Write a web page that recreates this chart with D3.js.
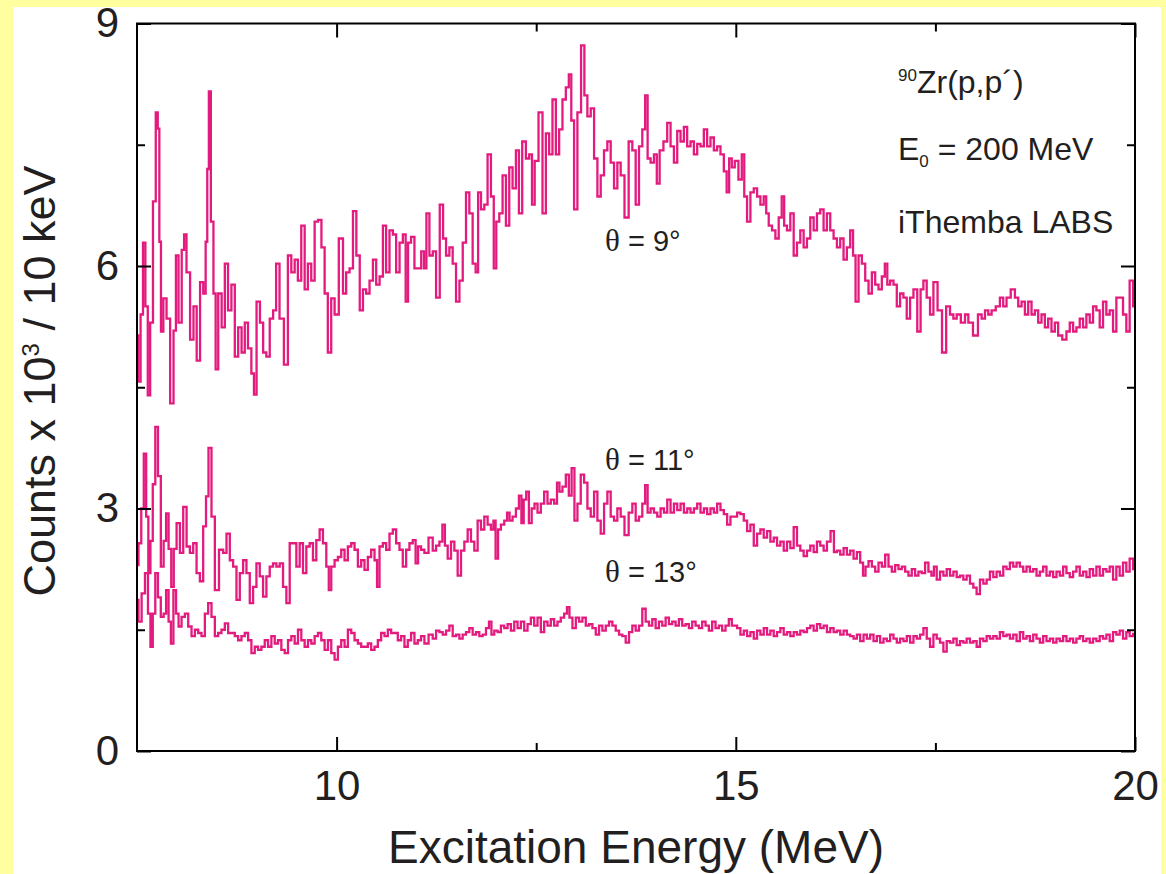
<!DOCTYPE html>
<html><head><meta charset="utf-8">
<script src="https://cdn.jsdelivr.net/npm/d3@7"></script>
<style>html,body{margin:0;padding:0;background:#FFFFA0;} svg{display:block}</style>
</head><body><svg id="c" width="1166" height="874"></svg>
<script>
// ---- tick values ----
const xMajorTicks = [10, 15, 20];
const xMinorTicks = [12.5, 17.5];
const yMajorTicks = [0, 3, 6, 9];
const yMinorTicks = [1.5, 4.5, 7.5];
const seriesAngles = ["9°", "11°", "13°"];

// ---- spectra: [excitation energy (MeV), counts x 10^3 / 10 keV] ----
const theta9 = [
[7.50,5.14],[7.53,4.57],[7.56,5.4],[7.59,6.29],[7.62,5.5],[7.65,4.4],[7.68,5.3],[7.72,6.8],[7.75,7.9],[7.77,7.7],[7.79,6.3],[7.81,5.19],[7.85,5.6],[7.89,5.35],[7.94,4.3],[7.975,5.2],[8.0,6.13],[8.04,5.3],[8.08,6.2],[8.1,6.39],[8.14,5.92],[8.19,5.09],[8.225,5.5],[8.27,4.83],[8.31,5.8],[8.35,5.66],[8.37,6.3],[8.39,7.2],[8.41,8.16],[8.44,6.55],[8.475,5.66],[8.495,4.72],[8.54,5.66],[8.58,5.24],[8.62,6.03],[8.66,5.45],[8.705,5.77],[8.745,4.88],[8.79,5.24],[8.83,4.93],[8.87,5.3],[8.91,4.98],[8.955,4.67],[8.975,4.41],[9.02,5.56],[9.06,5.3],[9.1,4.93],[9.14,4.88],[9.185,5.35],[9.225,5.45],[9.26,6.03],[9.31,5.35],[9.37,4.78],[9.41,6.13],[9.455,5.92],[9.495,6.08],[9.535,5.82],[9.58,6.5],[9.62,5.71],[9.66,6.03],[9.705,5.82],[9.745,6.55],[9.79,6.57],[9.83,6.23],[9.87,5.66],[9.91,4.93],[9.955,5.6],
[9.995,5.4],[10.06,6.34],[10.1,5.66],[10.14,5.92],[10.185,5.97],[10.225,6.68],[10.27,6.13],[10.31,5.45],[10.35,5.71],[10.39,5.66],[10.435,5.82],[10.475,6.08],[10.517,5.77],[10.56,5.87],[10.6,6.5],[10.64,5.92],[10.685,6.44],[10.725,6.39],[10.767,5.92],[10.81,6.29],[10.85,6.39],[10.88,5.56],[10.91,6.29],[10.955,6.36],[10.995,5.97],[11.04,5.97],[11.08,6.18],[11.11,5.97],[11.14,6.65],[11.185,6.13],[11.225,6.18],[11.267,5.61],[11.317,6.76],[11.35,6.34],[11.392,6.13],[11.433,6.23],[11.475,6.03],[11.517,5.56],[11.56,5.82],[11.6,6.29],[11.642,6.91],[11.683,6.65],[11.725,6.03],[11.758,5.92],[11.787,6.91],[11.83,6.7],[11.87,6.76],[11.912,7.38],[11.954,6.86],[11.983,5.97],[12.017,6.55],[12.058,6.65],[12.1,7.12],[12.142,6.5],[12.183,7.22],[12.225,6.96],[12.267,7.43],[12.3,6.65],[12.35,7.54],[12.392,7.33],[12.433,7.38],[12.462,6.76],
[12.5,7.3],[12.558,7.9],[12.6,6.65],[12.642,7.64],[12.683,7.38],[12.725,8.06],[12.767,7.38],[12.808,7.69],[12.85,8.06],[12.892,8.21],[12.925,8.37],[12.954,7.8],[12.995,6.7],[13.037,7.9],[13.087,8.73],[13.12,8.11],[13.162,7.85],[13.204,7.95],[13.246,7.33],[13.287,6.86],[13.329,7.12],[13.37,7.43],[13.412,7.54],[13.454,7.28],[13.496,6.96],[13.537,7.28],[13.579,7.12],[13.633,6.6],[13.683,7.54],[13.725,7.43],[13.767,6.76],[13.808,7.48],[13.85,7.69],[13.879,8.11],[13.912,7.33],[13.954,7.28],[13.996,7.38],[14.025,7.02],[14.067,7.43],[14.12,7.54],[14.162,7.77],[14.204,7.48],[14.246,7.28],[14.287,7.67],[14.329,7.54],[14.37,7.72],[14.412,7.48],[14.454,7.54],[14.496,7.38],[14.537,7.51],[14.579,7.48],[14.62,7.69],[14.662,7.48],[14.704,7.59],[14.746,7.43],[14.787,7.48],[14.829,7.38],[14.871,7.17],[14.9,6.91],[14.933,7.33],[14.966,7.22],
[15.008,7.3],[15.058,7.07],[15.092,7.38],[15.12,6.86],[15.162,6.55],[15.204,6.91],[15.246,6.96],[15.287,6.86],[15.329,6.76],[15.37,6.86],[15.392,6.65],[15.433,6.5],[15.475,6.44],[15.517,6.34],[15.558,6.6],[15.592,6.86],[15.62,6.5],[15.662,6.44],[15.704,6.65],[15.746,6.13],[15.787,6.29],[15.829,6.44],[15.87,6.23],[15.912,6.34],[15.954,6.6],[15.996,6.44],[16.037,6.65],[16.079,6.7],[16.12,6.44],[16.162,6.65],[16.204,6.44],[16.246,6.34],[16.287,6.23],[16.329,6.34],[16.37,6.08],[16.412,6.23],[16.454,6.44],[16.483,6.13],[16.517,5.56],[16.558,6.13],[16.6,6.03],[16.642,5.82],[16.683,5.66],[16.725,5.92],[16.767,5.77],[16.808,5.71],[16.85,5.87],[16.883,6.03],[16.912,5.77],[16.954,5.82],[16.996,5.77],[17.037,5.5],[17.079,5.66],[17.12,5.61],[17.162,5.35],[17.204,5.61],[17.246,5.71],[17.3,5.19],[17.329,5.71],[17.37,5.82],[17.412,5.61],[17.454,5.4],
[17.496,5.8],[17.558,5.45],[17.608,4.93],[17.662,5.5],[17.704,5.4],[17.746,5.35],[17.787,5.4],[17.85,5.3],[17.892,5.4],[17.933,5.3],[18.008,5.14],[18.058,5.4],[18.1,5.35],[18.142,5.45],[18.183,5.4],[18.225,5.45],[18.287,5.5],[18.329,5.61],[18.37,5.5],[18.412,5.61],[18.475,5.71],[18.517,5.61],[18.558,5.5],[18.6,5.56],[18.642,5.4],[18.683,5.56],[18.725,5.4],[18.767,5.45],[18.808,5.3],[18.85,5.4],[18.892,5.24],[18.933,5.35],[18.975,5.19],[19.017,5.3],[19.058,5.14],[19.12,5.09],[19.162,5.19],[19.204,5.3],[19.246,5.19],[19.287,5.24],[19.329,5.35],[19.37,5.24],[19.412,5.4],[19.454,5.3],[19.496,5.5],[19.537,5.45],[19.579,5.24],[19.62,5.56],[19.662,5.4],[19.704,5.45],[19.746,5.19],[19.787,5.61],[19.829,5.61],[19.871,5.4],[19.912,5.19],[19.954,5.82],[20.0,5.5]
];

const theta11 = [
[7.50,2.3],[7.537,2.57],[7.57,3.0],[7.6,3.68],[7.63,2.9],[7.654,2.2],[7.683,2.6],[7.712,3.3],[7.746,4.01],[7.78,3.4],[7.817,2.28],[7.85,2.6],[7.879,2.94],[7.912,2.5],[7.946,2.03],[7.975,2.5],[8.017,2.82],[8.058,2.45],[8.1,3.02],[8.142,2.53],[8.183,2.45],[8.225,2.57],[8.267,2.2],[8.308,2.1],[8.35,2.78],[8.379,3.15],[8.412,3.75],[8.454,2.9],[8.496,1.99],[8.558,2.49],[8.6,2.45],[8.642,2.69],[8.683,2.36],[8.725,2.28],[8.767,1.87],[8.808,2.2],[8.85,2.36],[8.892,2.2],[8.933,1.83],[8.975,2.03],[9.017,2.32],[9.058,2.16],[9.1,1.91],[9.142,2.16],[9.183,2.28],[9.225,2.32],[9.267,2.28],[9.308,2.32],[9.35,2.03],[9.392,1.83],[9.433,2.57],[9.475,2.57],[9.517,2.28],[9.558,2.57],[9.6,2.2],[9.642,2.53],[9.683,2.57],[9.725,2.36],[9.767,2.61],[9.808,2.74],[9.85,2.57],[9.892,2.28],[9.912,1.99],[9.954,2.28],[9.996,2.36],[10.037,2.4],[10.079,2.49],[10.12,2.36],[10.162,2.53],[10.204,2.57],[10.246,2.49],[10.287,2.28],[10.329,2.36],[10.37,2.24],[10.412,2.4],[10.454,2.49],[10.496,2.36],[10.517,2.03],[10.558,2.53],[10.6,2.57],[10.642,2.49],[10.683,2.69],[10.725,2.74],[10.767,2.57],[10.808,2.49],[10.85,2.28],[10.892,2.49],[10.933,2.57],[10.975,2.61],[11.004,2.32],[11.037,2.53],[11.079,2.49],[11.12,2.45],
[11.183,2.64],[11.225,2.48],[11.267,2.54],[11.308,2.59],[11.342,2.8],[11.371,2.54],[11.412,2.38],[11.454,2.59],[11.496,2.48],[11.537,2.17],[11.579,2.48],[11.621,2.59],[11.662,2.74],[11.704,2.59],[11.746,2.48],[11.787,2.85],[11.829,2.74],[11.871,2.9],[11.912,2.8],[11.954,2.74],[11.975,2.85],[12.008,2.38],[12.037,2.74],[12.079,2.8],[12.121,2.85],[12.15,2.95],[12.183,2.85],[12.225,2.9],[12.267,3.0],[12.3,3.16],[12.329,2.82],[12.358,3.11],[12.392,3.21],[12.425,2.82],[12.462,3.0],
[12.496,3.06],[12.537,2.95],[12.579,3.06],[12.621,3.21],[12.662,3.06],[12.704,3.11],[12.746,3.06],[12.775,3.32],[12.808,3.21],[12.85,3.27],[12.892,3.42],[12.925,3.16],[12.962,3.5],[12.996,2.85],[13.037,3.06],[13.079,3.42],[13.121,3.32],[13.162,3.0],[13.204,2.9],[13.246,3.21],[13.287,2.85],[13.329,2.69],[13.371,3.06],[13.412,3.21],[13.454,2.9],[13.496,2.85],[13.537,3.0],[13.579,2.9],[13.633,2.67],[13.683,2.95],[13.725,3.06],[13.767,2.85],[13.808,2.9],[13.85,3.06],[13.879,3.29],[13.912,2.95],[13.954,3.0],[13.996,2.95],[14.037,2.9],[14.079,3.0],[14.121,2.95],[14.162,3.11],[14.204,2.95],[14.246,3.06],[14.287,2.98],[14.329,3.06],[14.371,2.95],[14.412,3.0],[14.454,2.95],[14.496,3.0],[14.537,3.06],[14.579,2.95],[14.621,3.0],[14.662,2.93],[14.704,3.0],[14.746,2.95],[14.787,3.06],[14.829,2.98],[14.871,2.93],[14.912,2.8],[14.954,2.9],
[14.996,2.9],[15.037,2.95],[15.079,2.93],[15.121,2.85],[15.162,2.72],[15.204,2.8],[15.246,2.54],[15.287,2.69],[15.329,2.74],[15.371,2.64],[15.412,2.72],[15.454,2.59],[15.496,2.64],[15.537,2.54],[15.579,2.59],[15.621,2.48],[15.662,2.59],[15.704,2.51],[15.746,2.77],[15.787,2.54],[15.829,2.48],[15.871,2.41],[15.912,2.48],[15.954,2.54],[15.996,2.46],[16.037,2.59],[16.079,2.54],[16.121,2.48],[16.162,2.59],[16.212,2.72],[16.246,2.46],[16.287,2.48],[16.329,2.43],[16.371,2.51],[16.412,2.43],[16.454,2.48],[16.496,2.38],[16.537,2.46],[16.579,2.33],[16.608,2.17],[16.642,2.28],[16.683,2.35],[16.725,2.28],[16.767,2.22],[16.808,2.33],[16.85,2.28],[16.892,2.43],[16.933,2.28],[16.975,2.22],[17.017,2.3],[17.058,2.25],[17.1,2.28],[17.142,2.22],[17.183,2.17],[17.225,2.25],[17.267,2.17],[17.308,2.22],[17.35,2.2],[17.392,2.33],[17.433,2.22],[17.467,2.17],
[17.496,2.28],[17.537,2.12],[17.579,2.22],[17.621,2.17],[17.662,2.25],[17.704,2.17],[17.746,2.22],[17.787,2.15],[17.829,2.17],[17.871,2.12],[17.912,2.17],[17.954,2.07],[17.996,2.02],[18.037,1.94],[18.079,2.12],[18.121,2.07],[18.162,2.12],[18.204,2.22],[18.246,2.15],[18.287,2.22],[18.329,2.17],[18.371,2.28],[18.412,2.25],[18.454,2.33],[18.496,2.28],[18.537,2.33],[18.579,2.28],[18.621,2.22],[18.662,2.28],[18.704,2.22],[18.746,2.25],[18.787,2.17],[18.829,2.22],[18.871,2.28],[18.912,2.17],[18.954,2.22],[18.996,2.15],[19.037,2.22],[19.079,2.17],[19.121,2.28],[19.162,2.2],[19.204,2.15],[19.246,2.22],[19.287,2.28],[19.329,2.17],[19.371,2.22],[19.412,2.15],[19.454,2.25],[19.496,2.17],[19.537,2.28],[19.579,2.17],[19.621,2.25],[19.662,2.22],[19.704,2.28],[19.746,2.12],[19.787,2.28],[19.829,2.17],[19.871,2.33],[19.912,2.22],[19.954,2.38],[20.0,2.25]
];

const theta13 = [
[7.50,1.87],[7.537,1.6],[7.579,1.95],[7.621,2.2],[7.654,1.7],[7.683,1.29],[7.712,1.7],[7.746,2.2],[7.779,1.9],[7.817,1.66],[7.85,1.7],[7.879,1.99],[7.912,1.6],[7.937,1.33],[7.975,1.99],[8.004,1.7],[8.037,1.54],[8.079,1.66],[8.121,1.7],[8.162,1.54],[8.204,1.42],[8.246,1.5],[8.287,1.46],[8.329,1.42],[8.371,1.7],[8.412,1.83],[8.454,1.66],[8.496,1.42],[8.537,1.46],[8.579,1.5],[8.621,1.58],[8.662,1.46],[8.704,1.46],[8.746,1.42],[8.787,1.37],[8.829,1.42],[8.871,1.46],[8.912,1.37],[8.954,1.21],[8.996,1.29],[9.037,1.25],[9.079,1.29],[9.121,1.37],[9.162,1.29],[9.204,1.42],[9.246,1.33],[9.287,1.37],[9.329,1.25],[9.371,1.21],[9.412,1.37],[9.454,1.42],[9.496,1.33],[9.537,1.5],[9.579,1.37],[9.621,1.29],[9.662,1.37],[9.704,1.33],[9.746,1.42],[9.787,1.46],[9.829,1.37],[9.871,1.25],[9.912,1.37],[9.954,1.21],[9.996,1.13],[10.037,1.29],[10.079,1.37],[10.121,1.29],[10.162,1.5],[10.204,1.46],[10.246,1.37],[10.287,1.33],[10.329,1.29],[10.371,1.29],[10.412,1.33],[10.454,1.25],[10.496,1.29],[10.537,1.37],[10.579,1.46],[10.621,1.42],[10.662,1.5],[10.704,1.46],[10.746,1.46],[10.787,1.37],[10.829,1.42],[10.871,1.29],[10.912,1.37],[10.954,1.46],[10.996,1.33],[11.037,1.37],[11.079,1.42],[11.121,1.33],
[11.183,1.44],[11.225,1.39],[11.267,1.49],[11.308,1.47],[11.35,1.44],[11.392,1.49],[11.433,1.55],[11.475,1.42],[11.517,1.44],[11.558,1.39],[11.6,1.44],[11.642,1.47],[11.683,1.52],[11.725,1.44],[11.767,1.47],[11.808,1.42],[11.85,1.44],[11.892,1.52],[11.925,1.6],[11.954,1.44],[11.996,1.49],[12.037,1.47],[12.079,1.55],[12.121,1.52],[12.162,1.57],[12.204,1.49],[12.246,1.6],[12.287,1.52],[12.329,1.6],[12.371,1.49],[12.412,1.57],[12.454,1.65],
[12.496,1.55],[12.537,1.65],[12.579,1.47],[12.621,1.6],[12.662,1.55],[12.704,1.63],[12.746,1.55],[12.787,1.6],[12.829,1.65],[12.871,1.7],[12.9,1.78],[12.933,1.65],[12.975,1.52],[13.017,1.65],[13.058,1.6],[13.1,1.65],[13.142,1.55],[13.183,1.57],[13.225,1.52],[13.267,1.44],[13.308,1.55],[13.35,1.49],[13.392,1.55],[13.433,1.6],[13.475,1.55],[13.517,1.49],[13.558,1.44],[13.6,1.42],[13.642,1.34],[13.683,1.47],[13.725,1.55],[13.767,1.49],[13.808,1.55],[13.85,1.76],[13.892,1.6],[13.933,1.55],[13.975,1.63],[14.017,1.52],[14.058,1.6],[14.1,1.55],[14.142,1.65],[14.183,1.57],[14.225,1.6],[14.267,1.55],[14.308,1.63],[14.35,1.55],[14.392,1.57],[14.433,1.52],[14.475,1.6],[14.517,1.55],[14.558,1.52],[14.6,1.6],[14.642,1.55],[14.683,1.49],[14.725,1.6],[14.767,1.52],[14.808,1.55],[14.85,1.49],[14.892,1.55],[14.933,1.63],[14.967,1.55],
[14.996,1.55],[15.037,1.52],[15.079,1.44],[15.121,1.49],[15.162,1.42],[15.204,1.47],[15.246,1.39],[15.287,1.49],[15.329,1.44],[15.371,1.52],[15.412,1.44],[15.454,1.49],[15.496,1.42],[15.537,1.47],[15.579,1.52],[15.621,1.44],[15.662,1.47],[15.704,1.42],[15.746,1.47],[15.787,1.44],[15.829,1.49],[15.871,1.47],[15.912,1.52],[15.954,1.55],[15.996,1.49],[16.037,1.57],[16.079,1.52],[16.121,1.55],[16.162,1.47],[16.204,1.52],[16.246,1.47],[16.287,1.49],[16.329,1.44],[16.371,1.49],[16.412,1.44],[16.454,1.42],[16.496,1.39],[16.537,1.44],[16.579,1.36],[16.621,1.44],[16.662,1.39],[16.704,1.44],[16.746,1.36],[16.787,1.42],[16.829,1.34],[16.871,1.39],[16.912,1.36],[16.954,1.44],[16.996,1.39],[17.037,1.34],[17.079,1.39],[17.121,1.36],[17.162,1.42],[17.204,1.34],[17.246,1.42],[17.287,1.39],[17.329,1.44],[17.371,1.52],[17.412,1.39],[17.454,1.29],
[17.496,1.44],[17.537,1.39],[17.579,1.34],[17.621,1.23],[17.662,1.36],[17.704,1.34],[17.746,1.39],[17.787,1.31],[17.829,1.36],[17.871,1.34],[17.912,1.39],[17.954,1.34],[17.996,1.36],[18.037,1.29],[18.079,1.39],[18.121,1.36],[18.162,1.42],[18.204,1.39],[18.246,1.42],[18.287,1.39],[18.329,1.47],[18.371,1.42],[18.412,1.44],[18.454,1.39],[18.496,1.44],[18.537,1.36],[18.579,1.47],[18.621,1.39],[18.662,1.42],[18.704,1.36],[18.746,1.44],[18.787,1.39],[18.829,1.34],[18.871,1.42],[18.912,1.36],[18.954,1.39],[18.996,1.34],[19.037,1.39],[19.079,1.36],[19.121,1.42],[19.162,1.36],[19.204,1.39],[19.246,1.34],[19.287,1.39],[19.329,1.42],[19.371,1.36],[19.412,1.39],[19.454,1.34],[19.496,1.39],[19.537,1.36],[19.579,1.42],[19.621,1.39],[19.662,1.44],[19.704,1.36],[19.746,1.47],[19.787,1.44],[19.829,1.49],[19.871,1.39],[19.912,1.47],[19.954,1.42],[20.0,1.45]
];

const FONT = "'Liberation Sans', Arial, Helvetica, sans-serif";
const SERIF = "'Liberation Serif', 'DejaVu Serif', serif";
const INK = "#231F20";
const LINE = "#E31B7E";

const svg = d3.select("#c");
svg.append("rect").attr("x", 13).attr("y", 7).attr("width", 1148).attr("height", 867).attr("fill", "#fff");

const x = d3.scaleLinear().domain([7.5, 20]).range([137, 1135]);
const y = d3.scaleLinear().domain([0, 9]).range([751, 23.5]);

svg.append("clipPath").attr("id", "pc").append("rect")
  .attr("x", x(7.5)).attr("y", y(9)).attr("width", x(20) - x(7.5)).attr("height", y(0) - y(9));

const line = d3.line().x(d => x(d[0])).y(d => y(d[1])).curve(d3.curveStep);
const gl = svg.append("g").attr("clip-path", "url(#pc)");
[theta9, theta11, theta13].forEach(s => {
  gl.append("path").datum(s).attr("d", line).attr("fill", "none")
    .attr("stroke", LINE).attr("stroke-width", 2.3).attr("stroke-linejoin", "miter");
});

function styleAxis(g) {
  g.select(".domain").remove();
  g.selectAll(".tick line").attr("stroke", "#000").attr("stroke-width", 2);
  g.selectAll(".tick text").attr("fill", INK).style("font-family", FONT).style("font-size", "42px");
}
// bottom
svg.append("g").attr("transform", `translate(0,${y(0)})`)
  .call(d3.axisBottom(x).tickValues(xMajorTicks).tickSizeInner(-14).tickSizeOuter(0).tickPadding(19).tickFormat(d3.format("d")))
  .call(styleAxis);
svg.append("g").attr("transform", `translate(0,${y(0)})`)
  .call(d3.axisBottom(x).tickValues(xMinorTicks).tickSizeInner(-8).tickSizeOuter(0).tickFormat(""))
  .call(styleAxis);
// top
svg.append("g").attr("transform", `translate(0,${y(9)})`)
  .call(d3.axisTop(x).tickValues(xMajorTicks).tickSizeInner(-14).tickSizeOuter(0).tickFormat(""))
  .call(styleAxis);
svg.append("g").attr("transform", `translate(0,${y(9)})`)
  .call(d3.axisTop(x).tickValues(xMinorTicks).tickSizeInner(-8).tickSizeOuter(0).tickFormat(""))
  .call(styleAxis);
// left
svg.append("g").attr("transform", `translate(${x(7.5)},0)`)
  .call(d3.axisLeft(y).tickValues(yMajorTicks).tickSizeInner(-14).tickSizeOuter(0).tickPadding(18).tickFormat(d3.format("d")))
  .call(styleAxis);
svg.append("g").attr("transform", `translate(${x(7.5)},0)`)
  .call(d3.axisLeft(y).tickValues(yMinorTicks).tickSizeInner(-8).tickSizeOuter(0).tickFormat(""))
  .call(styleAxis);
// right
svg.append("g").attr("transform", `translate(${x(20)},0)`)
  .call(d3.axisRight(y).tickValues(yMajorTicks).tickSizeInner(-14).tickSizeOuter(0).tickFormat(""))
  .call(styleAxis);
svg.append("g").attr("transform", `translate(${x(20)},0)`)
  .call(d3.axisRight(y).tickValues(yMinorTicks).tickSizeInner(-8).tickSizeOuter(0).tickFormat(""))
  .call(styleAxis);

// frame
svg.append("rect").attr("x", x(7.5)).attr("y", y(9)).attr("width", x(20) - x(7.5)).attr("height", y(0) - y(9))
  .attr("fill", "none").attr("stroke", "#000").attr("stroke-width", 2);

// axis titles
svg.append("text").attr("x", (x(7.5) + x(20)) / 2).attr("y", 863).attr("text-anchor", "middle")
  .attr("fill", INK).style("font-family", FONT).style("font-size", "46px").text("Excitation Energy (MeV)");

const yt = svg.append("text").attr("transform", "translate(55,381) rotate(-90)").attr("text-anchor", "middle")
  .attr("fill", INK).style("font-family", FONT).style("font-size", "45px");
yt.append("tspan").text("Counts x 10");
yt.append("tspan").attr("dy", -16).style("font-size", "24px").text("3");
yt.append("tspan").attr("dy", 16).text(" / 10 keV");

// annotations
const a1 = svg.append("text").attr("x", 898).attr("y", 93).attr("fill", INK).style("font-family", FONT).style("font-size", "32px");
a1.append("tspan").attr("dy", -12).style("font-size", "17px").text("90");
a1.append("tspan").attr("dy", 12).text("Zr(p,p´)");
const a2 = svg.append("text").attr("x", 898).attr("y", 160).attr("fill", INK).style("font-family", FONT).style("font-size", "32px");
a2.append("tspan").text("E");
a2.append("tspan").attr("dy", 7).style("font-size", "17px").text("0");
a2.append("tspan").attr("dy", -7).text(" = 200 MeV");
svg.append("text").attr("x", 898).attr("y", 233).attr("fill", INK).style("font-family", FONT).style("font-size", "32px").text("iThemba LABS");

// series labels
const labY = [251, 470, 582];
seriesAngles.forEach((s, i) => {
  const t = svg.append("text").attr("x", 605).attr("y", labY[i]).attr("fill", INK)
    .style("font-family", FONT).style("font-size", "29px");
  t.append("tspan").style("font-family", SERIF).style("font-size", "31px").text("θ");
  t.append("tspan").text(" = " + s);
});
</script></body></html>
